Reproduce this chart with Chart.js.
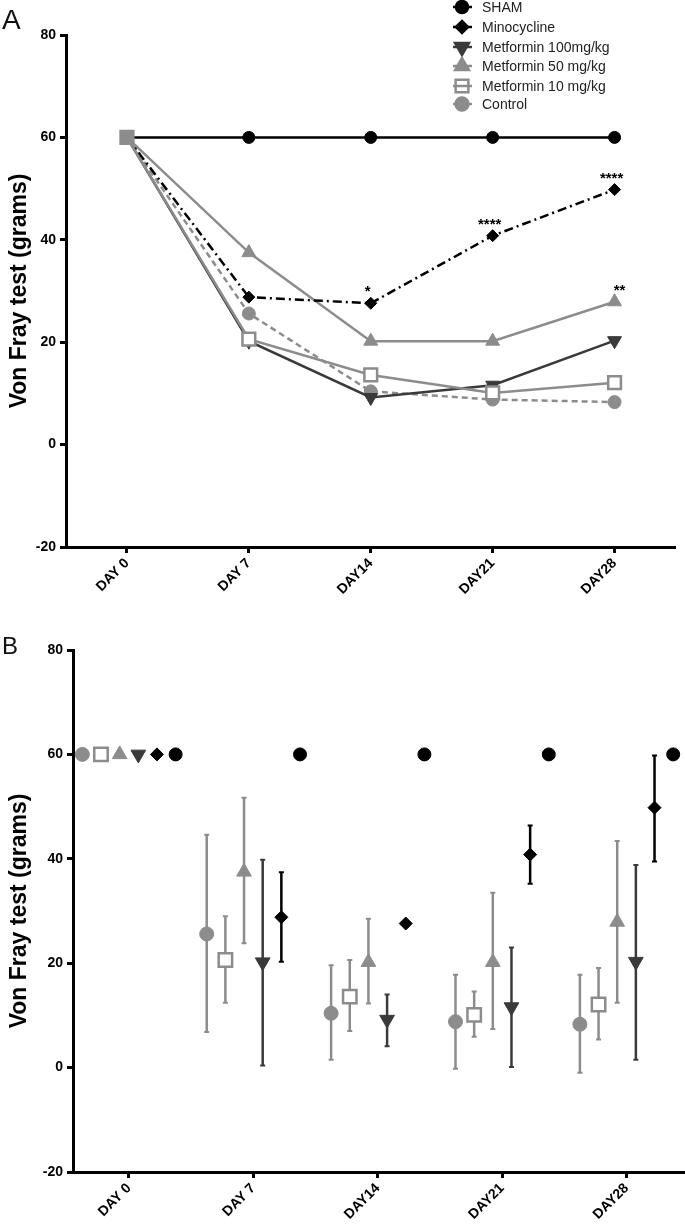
<!DOCTYPE html>
<html>
<head>
<meta charset="utf-8">
<script src="https://cdn.jsdelivr.net/npm/chart.js@4.4.0/dist/chart.umd.min.js"></script>
<style>
  html, body { margin: 0; padding: 0; background: #fff; overflow: hidden; }
  body { width: 685px; height: 1226px; position: relative; font-family: 'Liberation Sans', Arial, sans-serif; }
  .panel { position: absolute; left: 0; }
  /* Chart.js keeps ~12px on the right for the rotated labels: widen the boxes to compensate */
  #boxA { top: 0; width: 687px; height: 610px; }
  #boxB { top: 610px; width: 697px; height: 616px; }
  .tag { position: absolute; left: 2px; line-height: 1; color: #111; }
</style>
</head>
<body>
<div class="panel" id="boxA"><canvas id="chartA"></canvas></div>
<div class="panel" id="boxB"><canvas id="chartB"></canvas></div>
<div class="tag" style="top:6px; font-size:28px">A</div>
<div class="tag" style="top:634px; font-size:24px">B</div>
<script>
// données
const days = ['DAY 0', 'DAY 7', 'DAY14', 'DAY21', 'DAY28'];
const groups = ['SHAM', 'Minocycline', 'Metformin 100mg/kg', 'Metformin 50 mg/kg', 'Metformin 10 mg/kg', 'Control'];
const yTicks = [-20, 0, 20, 40, 60, 80];

const sham = [60, 60, 60, 60, 60];
const minocycline = [60, 28.8, 27.6, 40.8, 49.8];
const met100 = [60, 20.2, 9.2, 11.6, 20.3];
const met50 = [60, 37.5, 20.2, 20.2, 27.9];
const met10 = [60, 20.6, 13.6, 10.1, 12.1];
const control = [60, 25.6, 10.4, 8.8, 8.3];

// extrémités des barres d'erreur (panneau B)
const shamLow = [null, null, null, null, null];
const shamHigh = [null, null, null, null, null];
const minoLow = [null, 20.3, null, 35.2, 39.5];
const minoHigh = [null, 37.4, null, 46.4, 59.8];
const met100Low = [null, 0.4, 4.1, 0.1, 1.5];
const met100High = [null, 39.8, 14.0, 23.0, 38.8];
const met50Low = [null, 23.8, 12.3, 7.4, 12.4];
const met50High = [null, 51.7, 28.5, 33.5, 43.4];
const met10Low = [null, 12.4, 7.0, 5.9, 5.4];
const met10High = [null, 29.0, 20.6, 14.6, 19.1];
const controlLow = [null, 6.8, 1.5, -0.2, -1.0];
const controlHigh = [null, 44.6, 19.6, 17.8, 17.8];

const minoStars = ['', '', '*', '****', '****'];
const met50Stars = ['', '', '', '', '**'];

const FONT = "'Liberation Sans', Arial, sans-serif";
const grey = '#8c8c8c';
const dark = '#3a3a3a';

const series = [
  { label: groups[0], data: sham, low: shamLow, high: shamHigh, color: '#000', style: 'circle', r: 6, rot: 0, dash: [], fill: '#000', shift: 0.375 },
  { label: groups[1], data: minocycline, low: minoLow, high: minoHigh, color: '#000', style: 'rectRot', r: 6, rot: 0, dash: [9, 4, 2, 4], fill: '#000', shift: 0.225 },
  { label: groups[2], data: met100, low: met100Low, high: met100High, color: dark, style: 'triangle', r: 8, rot: 180, dash: [], fill: dark, shift: 0.075 },
  { label: groups[3], data: met50, low: met50Low, high: met50High, color: grey, style: 'triangle', r: 8, rot: 0, dash: [], fill: grey, shift: -0.075 },
  { label: groups[4], data: met10, low: met10Low, high: met10High, color: grey, style: 'rect', r: 9, rot: 0, dash: [], fill: '#fff', shift: -0.225 },
  { label: groups[5], data: control, low: controlLow, high: controlHigh, color: grey, style: 'circle', r: 6.5, rot: 0, dash: [6, 4], fill: grey, shift: -0.375 }
];

function yScale(width) {
  return {
    min: -20, max: 80,
    afterFit: s => { s.width = width; },
    afterBuildTicks: s => { s.ticks = yTicks.map(v => ({ value: v })); },
    border: { display: true, color: '#000', width: 3 },
    grid: { drawOnChartArea: false, drawTicks: true, tickLength: 6, tickWidth: 3, color: '#000' },
    ticks: { color: '#000', padding: 4, font: { family: FONT, size: 14, weight: 'bold' } },
    title: { display: true, text: 'Von Fray test (grams)', color: '#000', padding: { top: 6, bottom: 0 },
             font: { family: FONT, size: 23, weight: 'bold' } }
  };
}

function xFit(height) {
  return s => { s.height = height; };
}

// légende + astérisques du panneau A
const legendRows = [7, 27, 47, 66, 86, 104];
const decorA = {
  id: 'decorA',
  afterDraw(chart) {
    const ctx = chart.ctx;
    ctx.save();
    series.forEach((s, i) => {
      const y = legendRows[i];
      ctx.strokeStyle = s.color;
      ctx.lineWidth = 2.5;
      ctx.setLineDash([]);
      ctx.beginPath();
      ctx.moveTo(453, y);
      ctx.lineTo(472, y);
      ctx.stroke();
      ctx.fillStyle = s.style === 'rect' ? 'rgba(0,0,0,0)' : s.fill;
      Chart.helpers.drawPoint(ctx, { pointStyle: s.style, radius: s.r, rotation: s.rot, borderWidth: 2 }, 462, y);
      ctx.fillStyle = '#222';
      ctx.font = '14px ' + FONT;
      ctx.textBaseline = 'middle';
      ctx.textAlign = 'left';
      ctx.fillText(s.label, 482, y + 1);
    });
    ctx.font = 'bold 15px ' + FONT;
    ctx.fillStyle = '#000';
    ctx.textAlign = 'center';
    ctx.textBaseline = 'alphabetic';
    [[1, minoStars, -3], [3, met50Stars, 5]].forEach(([idx, marks, dx]) => {
      const meta = chart.getDatasetMeta(idx);
      marks.forEach((m, i) => {
        if (!m) return;
        const pt = meta.data[i];
        ctx.fillText(m, pt.x + dx, pt.y - 7);
      });
    });
    ctx.restore();
  }
};

// barres d'erreur du panneau B
const errorBars = {
  id: 'errorBars',
  beforeDatasetsDraw(chart) {
    const ctx = chart.ctx;
    const xs = chart.scales.x, ys = chart.scales.y;
    ctx.save();
    series.forEach(s => {
      ctx.strokeStyle = s.color;
      s.low.forEach((lo, i) => {
        const hi = s.high[i];
        if (lo === null || hi === null) return;
        const x = xs.getPixelForValue(i + s.shift);
        const y1 = ys.getPixelForValue(lo), y2 = ys.getPixelForValue(hi);
        ctx.lineWidth = 2.5;
        ctx.beginPath();
        ctx.moveTo(x, y1); ctx.lineTo(x, y2);
        ctx.stroke();
        ctx.lineWidth = 2;
        ctx.beginPath();
        ctx.moveTo(x - 2.5, y1); ctx.lineTo(x + 2.5, y1);
        ctx.moveTo(x - 2.5, y2); ctx.lineTo(x + 2.5, y2);
        ctx.stroke();
      });
    });
    ctx.restore();
  }
};

// panneau A : courbes
new Chart(document.getElementById('chartA'), {
  type: 'line',
  data: {
    labels: days,
    datasets: series.map((s, k) => ({
      label: s.label,
      data: s.data,
      borderColor: s.color,
      borderWidth: 2.5,
      borderDash: s.dash,
      tension: 0,
      pointStyle: s.style,
      pointRotation: s.rot,
      pointRadius: s.style === 'rect' ? s.r : s.data.map((v, i) => i === 0 ? 0 : s.r),
      pointBackgroundColor: s.data.map((v, i) => (s.style === 'rect' && i === 0) ? grey : s.fill),
      pointBorderColor: s.color,
      pointBorderWidth: s.style === 'rect' ? 2.5 : 1,
      order: s.style === 'rect' ? -1 : k,
      clip: false
    }))
  },
  options: {
    responsive: true,
    maintainAspectRatio: false,
    animation: false,
    layout: { padding: { top: 35, right: 0, left: 0, bottom: 0 } },
    plugins: { legend: { display: false }, tooltip: { enabled: false } },
    scales: {
      x: {
        type: 'category',
        offset: true,
        afterFit: xFit(63),
        border: { display: true, color: '#000', width: 3 },
        grid: { offset: false, drawOnChartArea: false, drawTicks: true, tickLength: 6, tickWidth: 3, color: '#000' },
        ticks: { color: '#000', minRotation: 45, maxRotation: 45, padding: 2, font: { family: FONT, size: 14, weight: 'bold' } }
      },
      y: yScale(66)
    }
  },
  plugins: [decorA]
});

// panneau B : moyennes et barres d'erreur décalées
new Chart(document.getElementById('chartB'), {
  type: 'scatter',
  data: {
    datasets: series.map(s => ({
      label: s.label,
      data: s.data.map((v, i) => ({ x: i + s.shift, y: v })),
      showLine: false,
      pointStyle: s.style,
      pointRotation: s.rot,
      pointRadius: s.r + 0.5,
      pointBackgroundColor: s.fill,
      pointBorderColor: s.color,
      pointBorderWidth: s.style === 'rect' ? 2.5 : 1,
      clip: false
    }))
  },
  options: {
    responsive: true,
    maintainAspectRatio: false,
    animation: false,
    layout: { padding: { top: 40, right: 0, left: 0, bottom: 0 } },
    plugins: { legend: { display: false }, tooltip: { enabled: false } },
    scales: {
      x: {
        type: 'linear',
        min: -0.45, max: 4.47,
        afterFit: xFit(54),
        afterBuildTicks: s => { s.ticks = days.map((d, i) => ({ value: i })); },
        border: { display: true, color: '#000', width: 3 },
        grid: { drawOnChartArea: false, drawTicks: true, tickLength: 6, tickWidth: 3, color: '#000' },
        ticks: { color: '#000', minRotation: 45, maxRotation: 45, padding: 2, autoSkip: false,
                 callback: v => days[v], font: { family: FONT, size: 14, weight: 'bold' } }
      },
      y: yScale(73)
    }
  },
  plugins: [errorBars]
});
</script>
</body>
</html>
